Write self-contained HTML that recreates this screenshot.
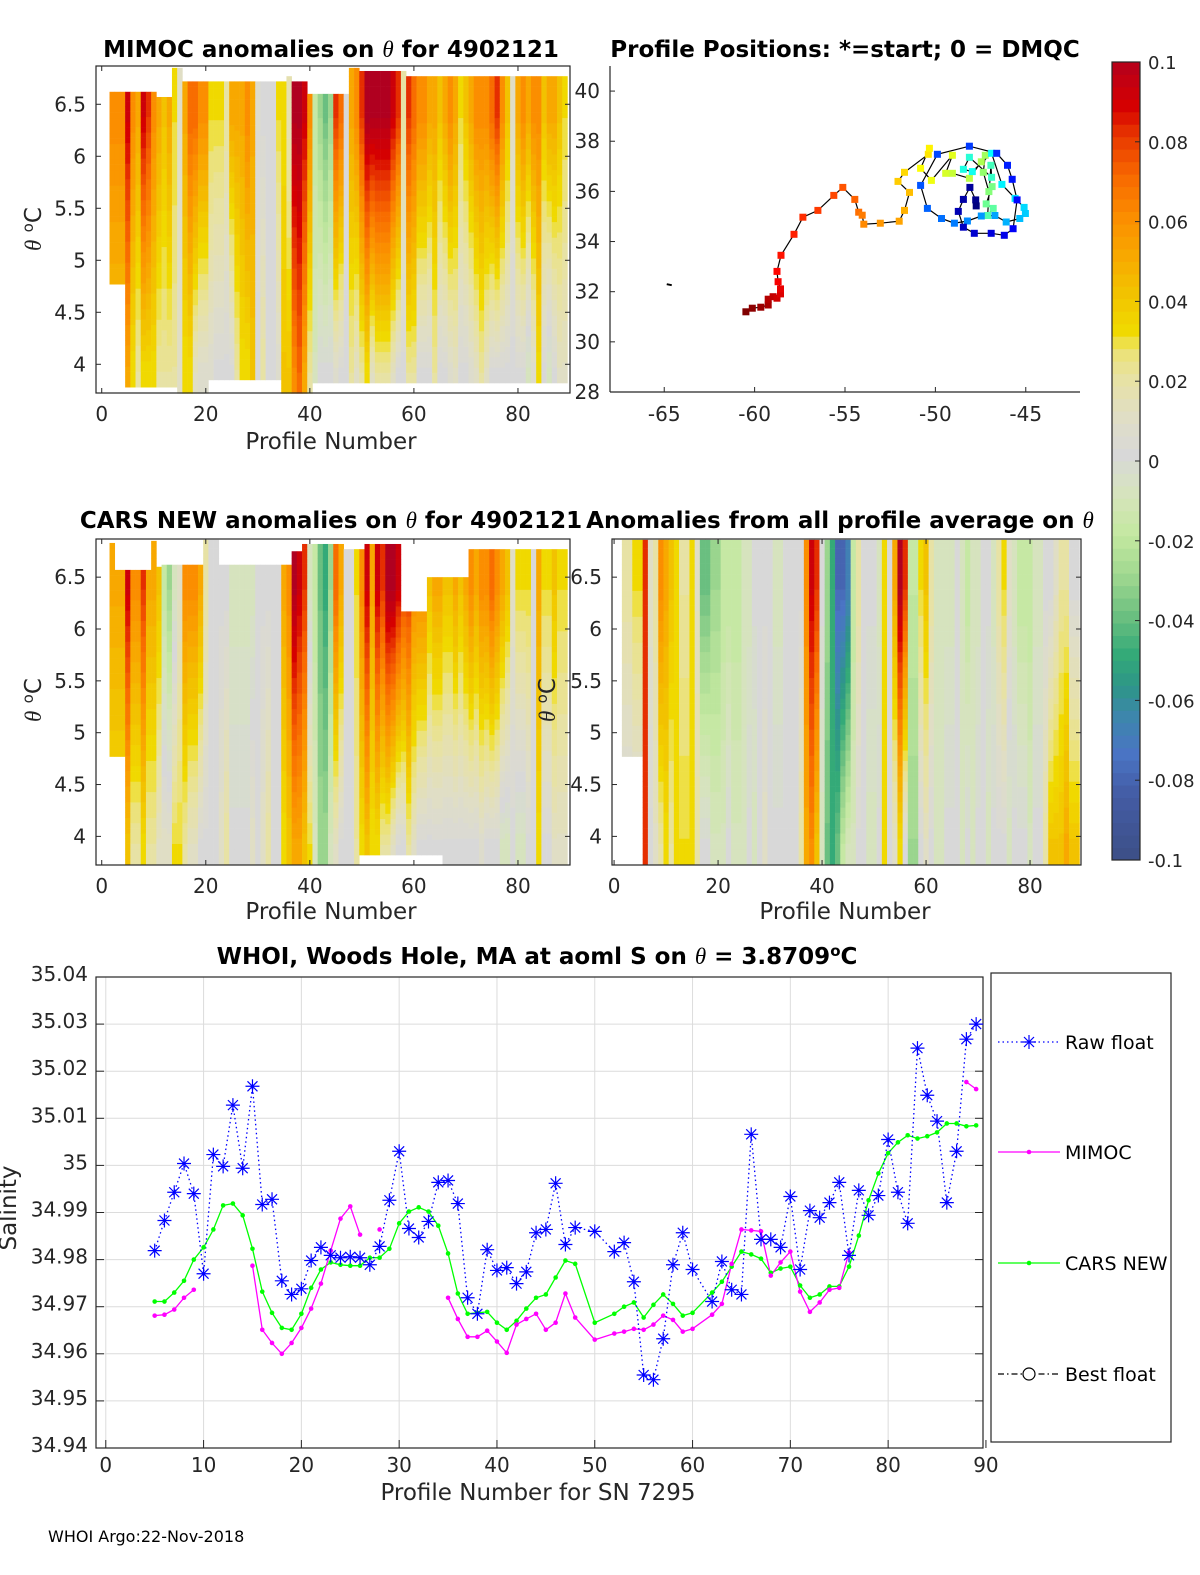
<!DOCTYPE html>
<html><head><meta charset="utf-8">
<style>
html,body{margin:0;padding:0;background:#fff;}
svg{display:block;font-family:"DejaVu Sans","Liberation Sans",sans-serif;}
</style></head>
<body>
<svg id="fig" width="1200" height="1575" viewBox="0 0 1200 1575" xmlns="http://www.w3.org/2000/svg">
<rect width="1200" height="1575" fill="#fff"/>
<g id="p1"></g>
<g id="p2"></g>
<g id="p3"></g>
<g id="p4"></g>
<g id="cb"></g>
<g id="p5"></g>
<g id="lg"></g>

<text x="331" y="57" font-size="23" font-weight="bold" text-anchor="middle">MIMOC anomalies on <tspan font-family="Liberation Serif,serif" font-style="italic" font-weight="normal">θ</tspan>  for 4902121</text>
<text x="845" y="57" font-size="23" font-weight="bold" text-anchor="middle">Profile Positions: *=start; 0 = DMQC</text>
<text x="331" y="528" font-size="23" font-weight="bold" text-anchor="middle">CARS NEW anomalies on <tspan font-family="Liberation Serif,serif" font-style="italic" font-weight="normal">θ</tspan> for 4902121</text>
<text x="840" y="528" font-size="23" font-weight="bold" text-anchor="middle">Anomalies from all profile average on <tspan font-family="Liberation Serif,serif" font-style="italic" font-weight="normal">θ</tspan></text>
<text x="537" y="964" font-size="23" font-weight="bold" text-anchor="middle">WHOI, Woods Hole, MA at aoml S on <tspan font-family="Liberation Serif,serif" font-style="italic" font-weight="normal">θ</tspan> = 3.8709<tspan dy="-8" font-size="15">o</tspan><tspan dy="8">C</tspan></text>

<text x="331" y="449" font-size="23" text-anchor="middle" fill="#262626">Profile Number</text>
<text x="331" y="919" font-size="23" text-anchor="middle" fill="#262626">Profile Number</text>
<text x="845" y="919" font-size="23" text-anchor="middle" fill="#262626">Profile Number</text>
<text x="538" y="1500" font-size="23" text-anchor="middle" fill="#262626">Profile Number for SN 7295</text>
<text transform="translate(41,229) rotate(-90)" font-size="23" text-anchor="middle" fill="#262626"><tspan font-family="Liberation Serif,serif" font-style="italic">θ</tspan> <tspan dy="-8" font-size="15">o</tspan><tspan dy="8">C</tspan></text>
<text transform="translate(41,700) rotate(-90)" font-size="23" text-anchor="middle" fill="#262626"><tspan font-family="Liberation Serif,serif" font-style="italic">θ</tspan> <tspan dy="-8" font-size="15">o</tspan><tspan dy="8">C</tspan></text>
<text transform="translate(555,700) rotate(-90)" font-size="23" text-anchor="middle" fill="#262626"><tspan font-family="Liberation Serif,serif" font-style="italic">θ</tspan> <tspan dy="-8" font-size="15">o</tspan><tspan dy="8">C</tspan></text>
<text transform="translate(16,1208) rotate(-90)" font-size="23" text-anchor="middle" fill="#262626">Salinity</text>
<text x="48" y="1542" font-size="16" fill="#000">WHOI Argo:22-Nov-2018</text>
</svg>

<script>
// ---------- heatmap data (anomaly in hundredths of °C), profiles 2..89 ----------
function rep(v,n){var a=[];for(var i=0;i<n;i++)a.push(v);return a;}
var heatProfiles=[];for(var pp=2;pp<=89;pp++)heatProfiles.push(pp);
var mimocUpper=[6,6,6,9,6,5,9,8,6,5,4,5,3,1,5,7,7,6,6,3,3,3,2,5,5,5,6,5,0.5,0,0,0,3,3,1.5,10,10,9,6,-2,-3,-4,-3,8,7,0,5,6,8,10,10,10,10,10,9,8,2,8,7,6,6,5,5,4,5,6,5,3,4,5,6,6,6,7,8,6,4,1,5,6,5,6,6,4,5,5,4,3];
var mimocLower=[4,4,4,5,3,2,3,3,3,2,2,2,2,1,3,3,1,0.5,0.5,0.5,0,0,0,0,2,3,3,4,0,2,0,0,0.5,4,4,6,7,5,2,-1,0,0,0,0.5,0,0,2,1,2,3,1,2,2,2,1,0,0,2,2,0,0,0,2,0,0,0.5,1,0,0,0.5,1,2,1,0,0,0,0,0,0,0,-1,0.5,3,0,-1,0,1,1];
var mimocTop=[].concat(rep(6.62,9),rep(6.57,3),rep(6.85,2),rep(6.72,20),[6.77],rep(6.72,3),rep(6.6,8),rep(6.85,2),rep(6.82,9),rep(6.77,31));
var mimocBot=[].concat(rep(4.77,3),rep(3.78,10),rep(3.72,6),rep(3.85,14),rep(3.72,6),rep(3.82,49));
var carsUpper=[5,5,5,9,6,6,8,5,5,4,-2,-3,-1,1,6,6,6,5,2,0,0,0,0,-1,-1,-1,-1,-1,0,0,0,0,0,5,6,10,9,8,-1,-2,-4,-5,-3,7,5,0,0,3,6,9,5,9,8,10,10,9,8,8,6,6,6,4,5,5,4,4,5,4,5,6,5,6,6,7,6,5,4,1,3,3,3,0,5,3,3,4,3,3];
var carsLower=[3,3,3,4,2,2,3,2,2,1,1,1,3,3,2,1,1,0,0,0,0,1,2,0,0,0,0,1,0,1,2,0,0,3,4,5,5,4,3,-1,-3,-3,-1,1,0,0,0,2,3,4,3,3,2,2,1,0,0,2,1,0,0,0,0,0,0,0,0,0,0,0,0,0.5,0,0,0,-1,-1,0,-1,-1,0,0,3,0,0,1,1,1];
var carsTop=[].concat([6.83],rep(6.57,7),[6.85],[6.6],rep(6.62,8),rep(6.86,3),rep(6.62,14),rep(6.75,2),rep(6.82,2),rep(6.82,6),rep(6.77,4),rep(6.82,7),rep(6.17,5),rep(6.5,8),rep(6.77,19));
var carsBot=[].concat(rep(4.77,3),rep(3.73,45),rep(3.82,16),rep(3.73,24));
var avgUpper=[2,2,3,3,8,1,2,6,5,4,3,2,2,3,1,-4,-4,-3,-3,-2,-2,-2,-2,-1,-1,0,0,0,0,-1,-1,0,0,0,0,6,9,8,0,-3,-5,-8,-8,-7,-2,2,0,0,0,-1,3,0,5,10,8,-2,-2,3,4,2,-1,-1,-1,-1,0,-1,-2,-1,-1,0,0,-1,2,3,1,-1,-2,-2,-2,-1,-1,0,0,1,2,2,0,0];
var avgLower=[0,0,0,0,8,0,1,2,3,2,3,3,3,3,2,0,0,-1,-1,-1,0,-1,-1,-1,0,-1,0,1,0,0,0,0,0,0,2,5,6,4,-1,-4,-5,-4,-2,-1,-1,0,0,-1,-1,0,3,0,1,3,0,-3,-3,0,1,0,-1,-1,0,0,0,-1,0,-1,0,0,-1,0,0,0,-1,0,0,0,-1,0,0,2,4,4,4,5,4,4];
var avgTop=[].concat(rep(6.86,88));
var avgBot=[].concat(rep(4.77,4),rep(3.73,84));
var cbTicks=[0.1,0.08,0.06,0.04,0.02,0,-0.02,-0.04,-0.06,-0.08,-0.1];
var cbLabels=["0.1","0.08","0.06","0.04","0.02","0","-0.02","-0.04","-0.06","-0.08","-0.1"];
var thetaTicks=[6.5,6,5.5,5,4.5,4];
var thetaLabels=["6.5","6","5.5","5","4.5","4"];
var profTicks=[0,20,40,60,80];

// ---------- map data ----------
var trackLon=[-60.48,-60.13,-59.66,-59.25,-59.25,-58.98,-58.76,-58.57,-58.57,-58.70,-58.76,-58.54,-57.82,-57.33,-56.50,-55.62,-55.12,-54.46,-54.24,-54.05,-53.96,-53.05,-52.00,-51.71,-51.43,-52.07,-51.71,-50.39,-50.33,-50.82,-50.22,-49.06,-49.43,-49.06,-48.12,-47.46,-47.24,-47.35,-47.04,-46.86,-47.19,-46.80,-47.11,-46.93,-46.89,-48.12,-48.45,-47.96,-46.89,-46.32,-45.59,-45.09,-45.02,-45.33,-46.08,-46.71,-47.46,-48.23,-48.95,-49.66,-50.44,-50.82,-49.89,-48.12,-46.61,-46.01,-45.75,-45.48,-45.70,-46.19,-46.91,-47.85,-48.45,-48.73,-48.45,-48.09,-47.77,-47.74];
var trackLat=[31.20,31.34,31.38,31.47,31.70,31.80,31.74,31.91,32.11,32.40,32.81,33.45,34.29,34.97,35.24,35.84,36.16,35.68,35.17,35.05,34.69,34.73,34.81,35.24,35.96,36.40,36.76,37.48,37.72,36.92,36.44,37.44,36.72,36.72,36.52,37.18,37.44,36.76,35.99,36.19,35.50,35.32,35.04,37.04,36.56,37.36,36.88,36.79,37.52,36.28,35.72,35.36,35.12,34.92,34.78,35.04,35.02,34.82,34.73,34.92,35.32,36.24,37.48,37.80,37.52,37.04,36.48,35.66,34.51,34.25,34.33,34.33,34.57,35.20,35.68,36.16,35.66,35.42];
var startLon=[-64.75], startLat=[32.3];
var lonTicks=[-65,-60,-55,-50,-45];
var latTicks=[28,30,32,34,36,38,40];

// ---------- salinity chart data ----------
var profiles=[5,6,7,8,9,10,11,12,13,14,15,16,17,18,19,20,21,22,23,24,25,26,27,28,29,30,31,32,33,34,35,36,37,38,39,40,41,42,43,44,45,46,47,48,50,52,53,54,55,56,57,58,59,60,62,63,64,65,66,67,68,69,70,71,72,73,74,75,76,77,78,79,80,81,82,83,84,85,86,87,88,89];
var rawFloat=[34.9819,34.9883,34.9943,35.0004,34.9940,34.9770,35.0023,34.9998,35.0128,34.9994,35.0168,34.9917,34.9928,34.9755,34.9726,34.9738,34.9798,34.9826,34.9809,34.9804,34.9806,34.9804,34.9789,34.9828,34.9926,35.0030,34.9866,34.9847,34.9881,34.9964,34.9968,34.9919,34.9719,34.9685,34.9821,34.9777,34.9783,34.9749,34.9774,34.9857,34.9864,34.9962,34.9832,34.9868,34.9860,34.9817,34.9836,34.9753,34.9555,34.9545,34.9632,34.9789,34.9857,34.9779,34.9711,34.9796,34.9736,34.9726,35.0066,34.9843,34.9843,34.9826,34.9934,34.9779,34.9904,34.9889,34.9921,34.9964,34.9809,34.9947,34.9894,34.9936,35.0055,34.9943,34.9877,35.0249,35.0149,35.0094,34.9921,35.0030,35.0268,35.0300];
var mimoc=[34.9681,34.9683,34.9694,34.9719,34.9736,null,null,null,null,null,34.9787,34.9651,34.9623,34.9600,34.9623,34.9655,34.9696,34.9749,34.9819,34.9887,34.9913,34.9853,null,34.9864,null,null,null,null,null,null,34.9719,34.9674,34.9636,34.9636,34.9649,34.9626,34.9602,34.9662,34.9674,34.9685,34.9651,34.9666,34.9728,34.9677,34.9630,34.9643,34.9647,34.9653,34.9651,34.9662,34.9681,34.9672,34.9647,34.9653,34.9683,34.9706,34.9791,34.9864,34.9862,34.9860,34.9766,34.9794,34.9817,34.9732,34.9689,34.9709,34.9736,34.9740,34.9815,null,null,null,null,null,null,null,null,null,null,null,35.0177,35.0162];
var carsNew=[34.9711,34.9711,34.9730,34.9755,34.9800,34.9826,34.9864,34.9915,34.9919,34.9894,34.9823,34.9732,34.9687,34.9655,34.9651,34.9685,34.9740,34.9779,34.9794,34.9789,34.9787,34.9787,34.9804,34.9804,34.9823,34.9877,34.9902,34.9911,34.9902,34.9872,34.9813,34.9728,34.9685,34.9687,34.9689,34.9666,34.9651,34.9670,34.9696,34.9719,34.9726,34.9762,34.9798,34.9791,34.9666,34.9685,34.9700,34.9709,34.9677,34.9704,34.9726,34.9706,34.9681,34.9687,34.9730,34.9753,34.9785,34.9817,34.9811,34.9802,34.9772,34.9781,34.9785,34.9745,34.9719,34.9726,34.9743,34.9743,34.9785,34.9851,34.9926,34.9983,35.0026,35.0049,35.0064,35.0057,35.0062,35.0070,35.0089,35.0089,35.0083,35.0085];
var salTicks=[35.04,35.03,35.02,35.01,35,34.99,34.98,34.97,34.96,34.95,34.94];
var salLabels=["35.04","35.03","35.02","35.01","35","34.99","34.98","34.97","34.96","34.95","34.94"];
var profTicks2=[0,10,20,30,40,50,60,70,80,90];

var NS="http://www.w3.org/2000/svg";
function el(tag,attrs,parent){var e=document.createElementNS(NS,tag);for(var k in attrs)e.setAttribute(k,attrs[k]);parent.appendChild(e);return e;}

var cmStops=[[-0.1,[61,80,137]],[-0.085,[68,92,165]],[-0.075,[74,116,196]],[-0.065,[60,135,170]],[-0.058,[45,150,135]],[-0.05,[52,170,120]],[-0.04,[110,192,128]],[-0.03,[160,216,144]],[-0.02,[196,232,160]],[-0.01,[214,228,188]],[0,[216,216,216]],[0.01,[224,222,196]],[0.02,[232,226,160]],[0.027,[236,226,110]],[0.03,[240,220,0]],[0.04,[242,196,0]],[0.05,[248,168,0]],[0.06,[251,140,0]],[0.07,[248,104,0]],[0.08,[232,56,0]],[0.087,[215,0,0]],[0.1,[176,0,32]]];
function cmap(v){
  v=Math.max(-0.1,Math.min(0.1,v));
  v=Math.round(v/0.003125)*0.003125;
  for(var i=1;i<cmStops.length;i++){if(v<=cmStops[i][0]){var a=cmStops[i-1],b=cmStops[i];var t=(v-a[0])/(b[0]-a[0]);
    var c=[0,1,2].map(function(j){return Math.round(a[1][j]+t*(b[1][j]-a[1][j]));});return "rgb("+c.join(",")+")";}}
  return "rgb(176,0,32)";
}

function heatPanel(g,box,xmin,xmax,U,L,T,B){
  var X=function(p){return box.l+(p-xmin)/(xmax-xmin)*(box.r-box.l);};
  var Y=function(t){return box.b-(t-3.724)/(6.868-3.724)*(box.b-box.t);};
  var cells=el('g',{},g);
  for(var i=0;i<heatProfiles.length;i++){
    var p=heatProfiles[i];var x0=Math.max(box.l,X(p-0.5)),x1=Math.min(box.r,X(p+0.5));
    var top=T[i],bot=B[i];
    for(var th=bot;th<top-0.001;th+=0.05){
      var thc=th+0.025;var f=Math.max(0,Math.min(1,(thc-3.9)/(6.4-3.9)));
      var v=(L[i]+(U[i]-L[i])*f)/100;
      var y1=Y(Math.min(top,th+0.05)),y0=Y(th);
      var r=el('rect',{x:x0.toFixed(2),y:y1.toFixed(2),width:(x1-x0+0.3).toFixed(2),height:(y0-y1+0.3).toFixed(2),fill:cmap(v)},cells);
      
      
    }
  }
  el('rect',{x:box.l,y:box.t,width:box.r-box.l,height:box.b-box.t,fill:'none',stroke:'#262626','stroke-width':1.2},g);
  for(var k=0;k<profTicks.length;k++){var x=X(profTicks[k]);
    el('line',{x1:x,x2:x,y1:box.b,y2:box.b-5,stroke:'#262626'},g);el('line',{x1:x,x2:x,y1:box.t,y2:box.t+5,stroke:'#262626'},g);
    var t=el('text',{x:x,y:box.b+28,'font-size':20,'text-anchor':'middle',fill:'#262626'},g);t.textContent=profTicks[k];
    }
  for(var k=0;k<thetaTicks.length;k++){var y=Y(thetaTicks[k]);
    el('line',{x1:box.l,x2:box.l+5,y1:y,y2:y,stroke:'#262626'},g);el('line',{x1:box.r,x2:box.r-5,y1:y,y2:y,stroke:'#262626'},g);
    var t=el('text',{x:box.l-10,y:y+7,'font-size':20,'text-anchor':'end',fill:'#262626'},g);t.textContent=thetaLabels[k];
    }
}
heatPanel(document.getElementById('p1'),{l:96,r:570,t:66,b:393},-1.1,90,mimocUpper,mimocLower,mimocTop,mimocBot);
heatPanel(document.getElementById('p3'),{l:96,r:570,t:539,b:865},-1.1,90,carsUpper,carsLower,carsTop,carsBot);
heatPanel(document.getElementById('p4'),{l:612,r:1081,t:539,b:865},-0.4,89.8,avgUpper,avgLower,avgTop,avgBot);

(function(){
  var g=document.getElementById('p2');var box={l:610,r:1080,t:66,b:392};
  var X=function(lo){return box.l+(lo+68)/26*(box.r-box.l);};
  var Y=function(la){return box.b-(la-28)/13*(box.b-box.t);};
  el('line',{x1:box.l,x2:box.r,y1:box.b,y2:box.b,stroke:'#262626','stroke-width':1.2},g);
  el('line',{x1:box.l,x2:box.l,y1:box.t,y2:box.b,stroke:'#262626','stroke-width':1.2},g);
  for(var k=0;k<lonTicks.length;k++){var x=X(lonTicks[k]);el('line',{x1:x,x2:x,y1:box.b,y2:box.b-5,stroke:'#262626'},g);
    var t=el('text',{x:x,y:box.b+29,'font-size':20,'text-anchor':'middle',fill:'#262626'},g);t.textContent=lonTicks[k];
    }
  for(var k=0;k<latTicks.length;k++){var y=Y(latTicks[k]);el('line',{x1:box.l,x2:box.l+5,y1:y,y2:y,stroke:'#262626'},g);
    var t=el('text',{x:box.l-10,y:y+7,'font-size':20,'text-anchor':'end',fill:'#262626'},g);t.textContent=latTicks[k];
    }
  var d='';for(var i=0;i<trackLon.length;i++){d+=(i?'L':'M')+X(trackLon[i]).toFixed(1)+','+Y(trackLat[i]).toFixed(1);}
  var pth=el('path',{d:d,fill:'none',stroke:'#000','stroke-width':1.2},g);
  
  var n=trackLon.length;
  function jet(v){var r=Math.min(4*v-1.5,-4*v+4.5),gg=Math.min(4*v-0.5,-4*v+3.5),b=Math.min(4*v+0.5,-4*v+2.5);
    function c(z){return Math.round(255*Math.max(0,Math.min(1,z)));}return 'rgb('+c(r)+','+c(gg)+','+c(b)+')';}
  for(var i=0;i<n;i++){var s=el('rect',{x:(X(trackLon[i])-3.5).toFixed(1),y:(Y(trackLat[i])-3.5).toFixed(1),width:7,height:7,fill:jet(1-i/(n-1))},g);
    }
  var sm=el('line',{x1:X(startLon[0])-2,x2:X(startLon[0])+3,y1:Y(startLat[0]),y2:Y(startLat[0])+1,stroke:'#000','stroke-width':2},g);
  
})();

(function(){
  var g=document.getElementById('cb');var l=1112,r=1140,t=62,b=860;
  var Y=function(v){return b-(v+0.1)/0.2*(b-t);};
  for(var v=-0.1;v<0.0999;v+=0.003125){var y1=Y(v+0.003125),y0=Y(v);
    el('rect',{x:l,y:y1.toFixed(2),width:r-l,height:(y0-y1+0.4).toFixed(2),fill:cmap(v+0.0015)},g);}
  el('rect',{x:l,y:t,width:r-l,height:b-t,fill:'none',stroke:'#262626','stroke-width':1.2},g);
  for(var k=0;k<cbTicks.length;k++){var y=Y(cbTicks[k]);
    el('line',{x1:r,x2:r-5,y1:y,y2:y,stroke:'#262626'},g);
    var tx=el('text',{x:1148,y:y+7,'font-size':18,fill:'#262626'},g);tx.textContent=cbLabels[k];
    }
})();

(function(){
  var g=document.getElementById('p5');var box={l:96,r:983,t:977,b:1448};
  var X=function(p){return box.l+(p+1)/90.7*(box.r-box.l);};
  var Y=function(s){return box.b-(s-34.94)/0.1*(box.b-box.t);};
  for(var k=0;k<profTicks2.length;k++){var x=X(profTicks2[k]);
    if(x<box.r-1)el('line',{x1:x,x2:x,y1:box.t,y2:box.b,stroke:'#dcdcdc'},g);
    el('line',{x1:x,x2:x,y1:box.b,y2:box.b-8,stroke:'#262626'},g);
    var t=el('text',{x:x,y:box.b+24,'font-size':20,'text-anchor':'middle',fill:'#262626'},g);t.textContent=profTicks2[k];
    }
  for(var k=0;k<salTicks.length;k++){var y=Y(salTicks[k]);
    el('line',{x1:box.l,x2:box.r,y1:y,y2:y,stroke:'#dcdcdc'},g);
    el('line',{x1:box.l,x2:box.l+8,y1:y,y2:y,stroke:'#262626'},g);el('line',{x1:box.r,x2:box.r-8,y1:y,y2:y,stroke:'#262626'},g);
    var t=el('text',{x:box.l-8,y:y+4,'font-size':20,'text-anchor':'end',fill:'#262626'},g);t.textContent=salLabels[k];
    }
  el('rect',{x:box.l,y:box.t,width:box.r-box.l,height:box.b-box.t,fill:'none',stroke:'#262626','stroke-width':1.2},g);
  function linePath(vals,color,dash,name){
    var d='',pen=false;for(var i=0;i<profiles.length;i++){if(vals[i]===null){pen=false;continue;}
      d+=(pen?'L':'M')+X(profiles[i]).toFixed(1)+','+Y(vals[i]).toFixed(1);pen=true;}
    var a={d:d,fill:'none',stroke:color,'stroke-width':1.3};if(dash)a['stroke-dasharray']=dash;
    var p=el('path',a,g);}
  linePath(carsNew,'#00ff00',null,'cars-new-line');
  linePath(mimoc,'#ff00ff',null,'mimoc-line');
  linePath(rawFloat,'#0000ff','1.5,3','raw-float-line');
  for(var i=0;i<profiles.length;i++){
    var c=el('circle',{cx:X(profiles[i]),cy:Y(carsNew[i]),r:2.3,fill:'#00ff00'},g);
    
    if(mimoc[i]!==null){var m=el('circle',{cx:X(profiles[i]),cy:Y(mimoc[i]),r:2.3,fill:'#ff00ff'},g);
      }
  }
  for(var i=0;i<profiles.length;i++){
    var cx=X(profiles[i]),cy=Y(rawFloat[i]),s=7;
    var a=el('path',{d:'M'+(cx-s)+','+cy+'H'+(cx+s)+'M'+cx+','+(cy-s)+'V'+(cy+s)+'M'+(cx-5)+','+(cy-5)+'L'+(cx+5)+','+(cy+5)+'M'+(cx-5)+','+(cy+5)+'L'+(cx+5)+','+(cy-5),stroke:'#0000ff','stroke-width':1.2,fill:'none'},g);
    
  }
})();

(function(){
  var g=document.getElementById('lg');
  el('rect',{x:991,y:973,width:180,height:469,fill:'#fff',stroke:'#262626','stroke-width':1.2},g);
  var rows=[[1042,'Raw float'],[1152,'MIMOC'],[1263,'CARS NEW'],[1374,'Best float']];
  for(var i=0;i<rows.length;i++){var y=rows[i][0];
    var t=el('text',{x:1065,y:y+7,'font-size':19,fill:'#000'},g);t.textContent=rows[i][1];
    }
  el('line',{x1:998,x2:1060,y1:1042,y2:1042,stroke:'#0000ff','stroke-dasharray':'1.5,3','stroke-width':1.3},g);
  el('path',{d:'M1022,1042H1036M1029,1035V1049M1024,1037L1034,1047M1024,1047L1034,1037',stroke:'#0000ff','stroke-width':1.2},g);
  el('line',{x1:998,x2:1060,y1:1152,y2:1152,stroke:'#ff00ff','stroke-width':1.3},g);
  el('circle',{cx:1029,cy:1152,r:2.3,fill:'#ff00ff'},g);
  el('line',{x1:998,x2:1060,y1:1263,y2:1263,stroke:'#00ff00','stroke-width':1.3},g);
  el('circle',{cx:1029,cy:1263,r:2.3,fill:'#00ff00'},g);
  el('line',{x1:998,x2:1060,y1:1374,y2:1374,stroke:'#000','stroke-dasharray':'6,3,1.5,3','stroke-width':1.2},g);
  el('circle',{cx:1029,cy:1374,r:6,fill:'#fff',stroke:'#000','stroke-width':1.2},g);
})();
</script>
</body></html>
